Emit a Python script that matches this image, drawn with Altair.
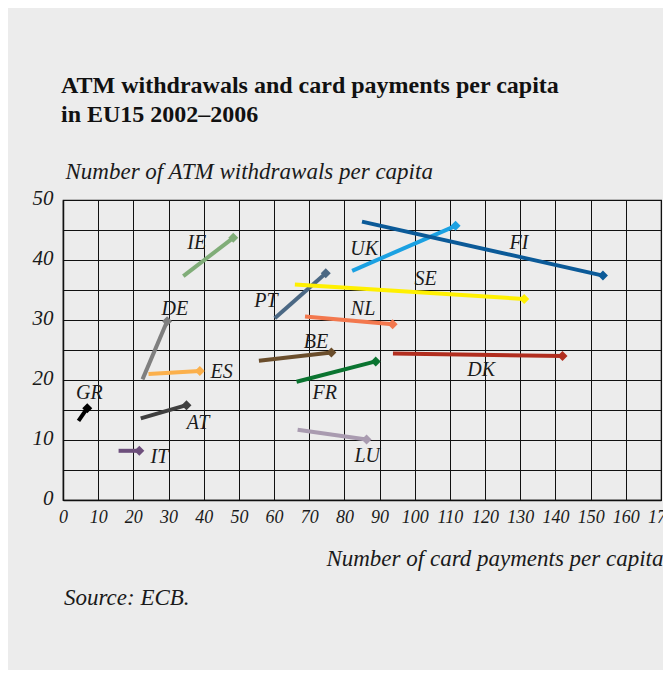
import altair as alt
import pandas as pd

countries = ["IE", "DE", "ES", "GR", "AT", "IT", "PT", "BE", "FR", "LU", "NL", "SE", "UK", "FI", "DK"]
card_2002 = [34.2, 22.6, 24.3, 4.4, 22.1, 15.8, 60.2, 55.7, 66.4, 66.7, 68.8, 65.9, 82.2, 85.0, 93.8]
atm_2002 = [37.3, 20.1, 21.0, 13.2, 13.6, 8.2, 30.3, 23.2, 19.7, 11.7, 30.6, 35.9, 38.2, 46.4, 24.4]
card_2006 = [48.4, 29.6, 38.9, 6.9, 35.1, 21.7, 74.7, 76.3, 88.9, 86.3, 93.7, 131.1, 111.6, 153.5, 142.0]
atm_2006 = [43.7, 29.8, 21.5, 15.3, 15.8, 8.2, 37.8, 24.6, 23.1, 10.1, 29.3, 33.5, 45.7, 37.4, 24.0]
label_x = [38.0, 31.8, 45.1, 7.5, 38.4, 27.4, 57.7, 71.9, 74.4, 86.5, 85.3, 103.1, 85.6, 129.6, 118.9]
label_y = [42.8, 31.9, 21.4, 17.9, 12.8, 7.2, 33.1, 26.4, 17.9, 7.4, 31.8, 36.8, 41.8, 42.9, 21.7]
colors = ["#80ad78", "#7f7f7f", "#fbb04c", "#000000", "#3f3f3f", "#6d4f7c", "#4b6884",
          "#6a4d2b", "#0a7430", "#a99bb0", "#f3784e", "#fff000", "#1ba1e2", "#0b5a98", "#b22e1f"]
x_ticks = list(range(0, 171, 10))
y_grid = list(range(0, 51, 5))

title_lines = ["ATM withdrawals and card payments per capita", "in EU15 2002\u20132006"]
y_title = "Number of ATM withdrawals per capita"
x_title = "Number of card payments per capita"
source = "Source: ECB."

rows = []
for i, c in enumerate(countries):
    rows.append({"country": c, "year": 2002, "x": card_2002[i], "y": atm_2002[i]})
    rows.append({"country": c, "year": 2006, "x": card_2006[i], "y": atm_2006[i]})
df = pd.DataFrame(rows)
lab = pd.DataFrame({"country": countries, "x": label_x, "y": label_y})

FONT = "Liberation Serif"
INK = "#1a1a1a"

xenc = alt.X("x:Q", scale=alt.Scale(domain=[0, 170], nice=False, zero=False),
             axis=alt.Axis(values=x_ticks, title=x_title, ticks=False, labelPadding=8,
                           labelFont=FONT, labelFontStyle="italic", labelFontSize=18,
                           labelColor=INK, labelFlush=False,
                           titleFontSize=23, titleFont=FONT, titleColor=INK,
                           titleFontStyle="italic", titleFontWeight="normal",
                           titleAnchor="end", titleAlign="right", titleX=600, titleY=65,
                           titleBaseline="alphabetic"))
yenc = alt.Y("y:Q", scale=alt.Scale(domain=[0, 50], nice=False),
             axis=alt.Axis(values=y_grid, title=y_title, ticks=False, labelPadding=10,
                           labelExpr="datum.value % 10 == 0 ? datum.label : ''",
                           labelFont=FONT, labelFontStyle="italic", labelFontSize=21,
                           labelColor=INK, labelBaseline="middle", labelOffset=-2,
                           labelFlush=False,
                           titleFontSize=23, titleFont=FONT, titleFontStyle="italic",
                           titleColor=INK, titleFontWeight="normal", titleAngle=0,
                           titleAlign="left", titleX=2, titleY=-22,
                           titleBaseline="alphabetic"))
cenc = alt.Color("country:N", scale=alt.Scale(domain=countries, range=colors), legend=None)

lines = alt.Chart(df).mark_line(strokeWidth=4, strokeCap="butt").encode(
    x=xenc, y=yenc, color=cenc, detail="country:N", order="year:O")
points = alt.Chart(df).transform_filter("datum.year == 2006").mark_point(
    shape="diamond", filled=True, size=100, opacity=1).encode(x=xenc, y=yenc, color=cenc)
labels = alt.Chart(lab).mark_text(font=FONT, fontStyle="italic", fontSize=20,
                                  color=INK).encode(x=xenc, y=yenc, text="country:N")

title1 = alt.Chart(pd.DataFrame({"t": [title_lines[0]]})).mark_text(
    align="left", baseline="alphabetic", font=FONT, fontWeight="bold", fontSize=24,
    color="#111").encode(x=alt.value(-2), y=alt.value(-107), text="t:N")
title2 = alt.Chart(pd.DataFrame({"t": [title_lines[1]]})).mark_text(
    align="left", baseline="alphabetic", font=FONT, fontWeight="bold", fontSize=24,
    color="#111").encode(x=alt.value(-2), y=alt.value(-78), text="t:N")
src = alt.Chart(pd.DataFrame({"t": [source]})).mark_text(
    align="left", baseline="alphabetic", font=FONT, fontStyle="italic", fontSize=23,
    color=INK).encode(x=alt.value(1), y=alt.value(405), text="t:N")

chart = alt.layer(lines, points, labels, title1, title2, src).properties(
    width=598, height=300,
    autosize=alt.AutoSizeParams(type="none"),
    padding={"left": 55, "top": 192, "right": 2, "bottom": 170},
    background="#ececec",
).configure_view(stroke="#111", strokeWidth=1.2).configure_axis(
    gridColor="#111", gridOpacity=1, gridWidth=1, domainColor="#111", domainWidth=1.5,
)

chart.save("out.html", embed_options={"renderer": "svg", "actions": False})
